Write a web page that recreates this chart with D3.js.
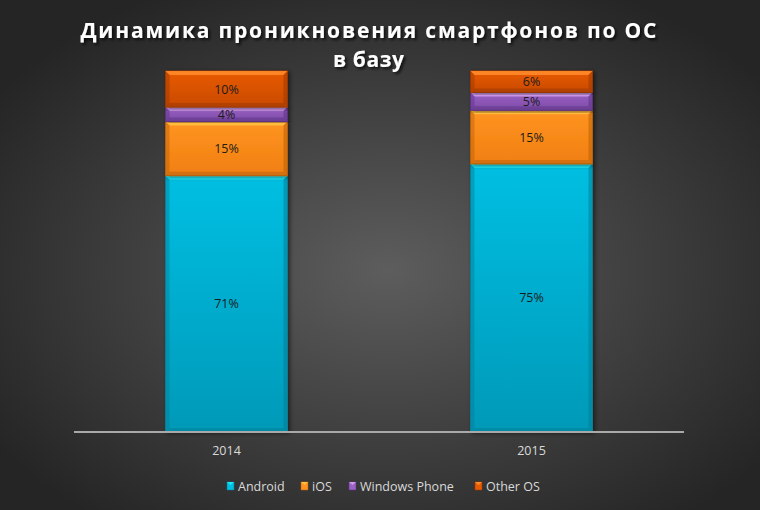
<!DOCTYPE html>
<html><head><meta charset="utf-8">
<script src="https://cdn.jsdelivr.net/npm/d3@7"></script>
<style>html,body{margin:0;padding:0;background:#333;}svg{display:block;}</style>
</head><body>
<svg id="chart" width="760" height="510"></svg>
<script>
const categories = ["2014", "2015"];
const seriesNames = ["Android", "iOS", "Windows Phone", "Other OS"];
const android = [71, 75];
const ios = [15, 15];
const windowsPhone = [4, 5];
const otherOS = [10, 6];
const titleLines = ["Динамика проникновения смартфонов по ОС", "в базу"];

const colors = {
  "Android": {top:"#1fe6f7", mid:"#00bfe2", bot:"#0099b8", edge:"#0a7e96"},
  "iOS": {top:"#ffc040", mid:"#ff9422", bot:"#f07f10", edge:"#b85f08"},
  "Windows Phone": {top:"#cf9ae8", mid:"#9a62c4", bot:"#7d4aa8", edge:"#5c3382"},
  "Other OS": {top:"#ff8a2a", mid:"#e85a00", bot:"#c94a00", edge:"#9a3800"}
};

const data = categories.map((c, i) => ({
  cat: c, "Android": android[i], "iOS": ios[i], "Windows Phone": windowsPhone[i], "Other OS": otherOS[i]
}));

const svg = d3.select("#chart");
const W = 760, H = 510;
const defs = svg.append("defs");

const bg = defs.append("radialGradient").attr("id","bg").attr("cx","51%").attr("cy","53%").attr("r","62%");
bg.append("stop").attr("offset","0%").attr("stop-color","#5d5d5d");
bg.append("stop").attr("offset","100%").attr("stop-color","#252525");
svg.append("rect").attr("width",W).attr("height",H).attr("fill","url(#bg)");

seriesNames.forEach((s, k) => {
  const g = defs.append("linearGradient").attr("id","g"+k).attr("x1",0).attr("y1",0).attr("x2",0).attr("y2",1);
  g.append("stop").attr("offset","0%").attr("stop-color",colors[s].mid);
  g.append("stop").attr("offset","100%").attr("stop-color",colors[s].bot);
});
const sh = defs.append("filter").attr("id","ts").attr("x","-10%").attr("y","-30%").attr("width","120%").attr("height","160%");
sh.append("feDropShadow").attr("dx",2).attr("dy",2).attr("stdDeviation",1.5).attr("flood-color","#000").attr("flood-opacity",0.75);
const bs = defs.append("filter").attr("id","bs").attr("x","-10%").attr("y","-10%").attr("width","130%").attr("height","120%");
bs.append("feDropShadow").attr("dx",2).attr("dy",1).attr("stdDeviation",2).attr("flood-color","#000").attr("flood-opacity",0.5);

const x = d3.scaleBand().domain(categories).range([74, 684]).paddingInner(0.6).paddingOuter(0.3);
const y = d3.scaleLinear().domain([0, 1]).range([432, 71]);

const stack = d3.stack().keys(seriesNames).offset(d3.stackOffsetExpand);
const stacked = stack(data);

const bars = svg.append("g");
stacked.forEach((layer, k) => {
  const s = layer.key;
  const c = colors[s];
  const g = bars.append("g");
  layer.forEach(d => {
    const x0 = x(d.data.cat), bw = x.bandwidth();
    const y0 = y(d[1]), y1 = y(d[0]), h = y1 - y0;
    const gg = g.append("g").attr("filter","url(#bs)");
    gg.append("rect").attr("x",x0).attr("y",y0).attr("width",bw).attr("height",h)
      .attr("fill","url(#g"+k+")").attr("stroke",c.edge).attr("stroke-width",1);
    const b = Math.min(4, h/3);
    gg.append("path").attr("d",`M${x0},${y0}L${x0+bw},${y0}L${x0+bw-b},${y0+b}L${x0+b},${y0+b}Z`).attr("fill",c.top).attr("opacity",0.9);
    gg.append("path").attr("d",`M${x0},${y0}L${x0+b},${y0+b}L${x0+b},${y1-b}L${x0},${y1}Z`).attr("fill",c.edge).attr("opacity",0.45);
    gg.append("path").attr("d",`M${x0+bw},${y0}L${x0+bw-b},${y0+b}L${x0+bw-b},${y1-b}L${x0+bw},${y1}Z`).attr("fill",c.edge).attr("opacity",0.55);
    gg.append("path").attr("d",`M${x0},${y1}L${x0+b},${y1-b}L${x0+bw-b},${y1-b}L${x0+bw},${y1}Z`).attr("fill",c.edge).attr("opacity",0.5);
    svg.append("text").attr("x",x0+bw/2).attr("y",(y0+y1)/2).attr("dy","0.36em")
      .attr("text-anchor","middle").attr("font-family","'Open Sans', sans-serif").attr("font-size",12.5)
      .attr("fill","#1b1b1b").text(d.data[s] + "%");
  });
});

const xAxis = d3.axisBottom(x).tickSize(0).tickPadding(14);
const ax = svg.append("g").attr("transform","translate(0,432)").call(xAxis);
ax.select(".domain").attr("stroke","#a9a9a9").attr("stroke-width",2).attr("d","M74,0H684");
ax.selectAll("text").attr("font-family","'Open Sans', sans-serif").attr("font-size",12.5).attr("fill","#d9d9d9");

const title = svg.append("text").attr("text-anchor","middle")
  .attr("font-family","'Open Sans', sans-serif").attr("font-weight","bold").attr("font-size",21)
  .attr("letter-spacing",1).attr("fill","#ffffff").attr("filter","url(#ts)");
title.selectAll("tspan").data(titleLines).join("tspan")
  .attr("x",369).attr("y",(d,i)=>38 + i*29)
  .attr("textLength",(d,i)=> i===0 ? 577 : 72).attr("lengthAdjust","spacing")
  .text(d=>d);

const legendX = [227, 301, 349, 475];
const lg = svg.append("g");
seriesNames.forEach((s, i) => {
  const c = colors[s];
  lg.append("rect").attr("x",legendX[i]).attr("y",482).attr("width",7).attr("height",8)
    .attr("fill",c.mid).attr("stroke",c.edge).attr("stroke-width",0.5);
  lg.append("path").attr("d",`M${legendX[i]},482h7l-3.5,3z`).attr("fill",c.top);
  lg.append("text").attr("x",legendX[i]+11).attr("y",486).attr("dy","0.36em")
    .attr("font-family","'Open Sans', sans-serif").attr("font-size",12.5).attr("fill","#d9d9d9").text(s);
});
</script>
</body></html>
